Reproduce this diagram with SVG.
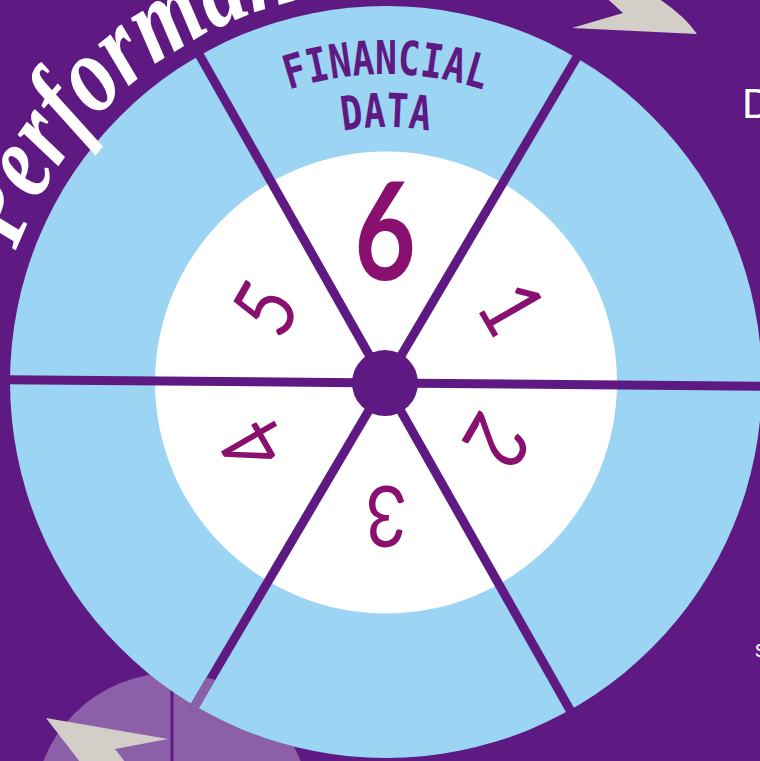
<svg xmlns="http://www.w3.org/2000/svg" width="760" height="761" viewBox="0 0 760 761">
<defs>
<style>
.bg{fill:#5e1a82}
.num{fill:#8a1070;font-family:Lato,"DejaVu Sans",sans-serif;text-anchor:middle}
.lbl{fill:#5e1a82;font-family:"DejaVu Sans Mono",monospace;text-anchor:middle}
.gray{fill:#d3cfc8}
.title{fill:#fff;font-family:"Liberation Serif",serif;font-style:italic;font-weight:bold}
.side{fill:#fff;font-family:"Liberation Sans",sans-serif}
.spoke{stroke:#5e1a82;stroke-width:9;fill:none}
</style>
<path id="titleArc" d="M -6 382 A 392 392 0 0 1 778 382"/>
<path id="finArc" d="M 96.6 276.7 A 308 308 0 0 1 675.4 276.7"/>
<path id="dataArc" d="M 146.4 294.8 A 255 255 0 0 1 625.6 294.8"/>
<clipPath id="blClip">
<rect x="385" y="378.5" width="380" height="9" transform="rotate(120.5 385 383)"/>
</clipPath>
</defs>
<rect class="bg" width="760" height="761"/>
<g id="backdrop">
<circle cx="172" cy="811" r="138" fill="#8c5fa9"/>
<line x1="172" y1="673" x2="172" y2="761" stroke="#5e1a82" stroke-width="3"/>
<polygon class="gray" points="46,718 168,739 115,749 135,775 90,775"/>
<path class="gray" d="M572 28 L623 13 L600 -8 L648 -8 Q682 12 697 34 Z"/>
</g>
<g id="wheel">
<circle cx="386" cy="382" r="376" fill="#9cd4f4"/>
<circle cx="386" cy="382.5" r="231" fill="#fff"/>
</g>
<g id="connectors" transform="rotate(0.5 385 383)">
<line class="spoke" x1="385" y1="383" x2="765" y2="383"/>
<line class="spoke" x1="385" y1="383" x2="575" y2="712.1"/>
<line class="spoke" x1="385" y1="383" x2="195" y2="712.1"/>
<line class="spoke" x1="385" y1="383" x2="5" y2="383"/>
<line class="spoke" x1="385" y1="383" x2="195" y2="53.9"/>
<line class="spoke" x1="385" y1="383" x2="575" y2="53.9"/>
</g>
<circle cx="172" cy="811" r="138" fill="#8c5fa9" clip-path="url(#blClip)"/>
<g id="hub"><circle cx="385" cy="383" r="33" fill="#5e1a82"/></g>
<g id="seg6"><text class="num" font-size="136" font-weight="bold" transform="translate(385 230.5) scale(0.78 1)" y="49">6</text></g>
<g id="seg1"><text class="num" font-size="86" transform="translate(512 308) rotate(60) scale(0.85 1)" y="31">1</text></g>
<g id="seg2"><text class="num" font-size="86" transform="translate(497 441) rotate(120) scale(0.85 1)" y="31">2</text></g>
<g id="seg3"><text class="num" font-size="86" transform="translate(386 517) rotate(180) scale(0.85 1)" y="31">3</text></g>
<g id="seg4"><text class="num" font-size="86" transform="translate(253 446) rotate(240) scale(0.85 1)" y="31">4</text></g>
<g id="seg5"><text class="num" font-size="86" transform="translate(265 308) rotate(300) scale(0.85 1)" y="31">5</text></g>
<g id="label">
<text class="lbl" font-size="47" font-weight="bold"><textPath href="#finArc" startOffset="50%" textLength="198" lengthAdjust="spacingAndGlyphs">FINANCIAL</textPath></text>
<text class="lbl" font-size="47" font-weight="bold"><textPath href="#dataArc" startOffset="50%" textLength="87" lengthAdjust="spacingAndGlyphs">DATA</textPath></text>
</g>
<g id="title">
<text class="title" font-size="112"><textPath href="#titleArc" startOffset="134" textLength="472" lengthAdjust="spacingAndGlyphs">Performance</textPath></text>
</g>
<text class="side" x="742" y="118" font-size="42">D</text>
<text class="side" x="755" y="657" font-size="23">s</text>
</svg>
